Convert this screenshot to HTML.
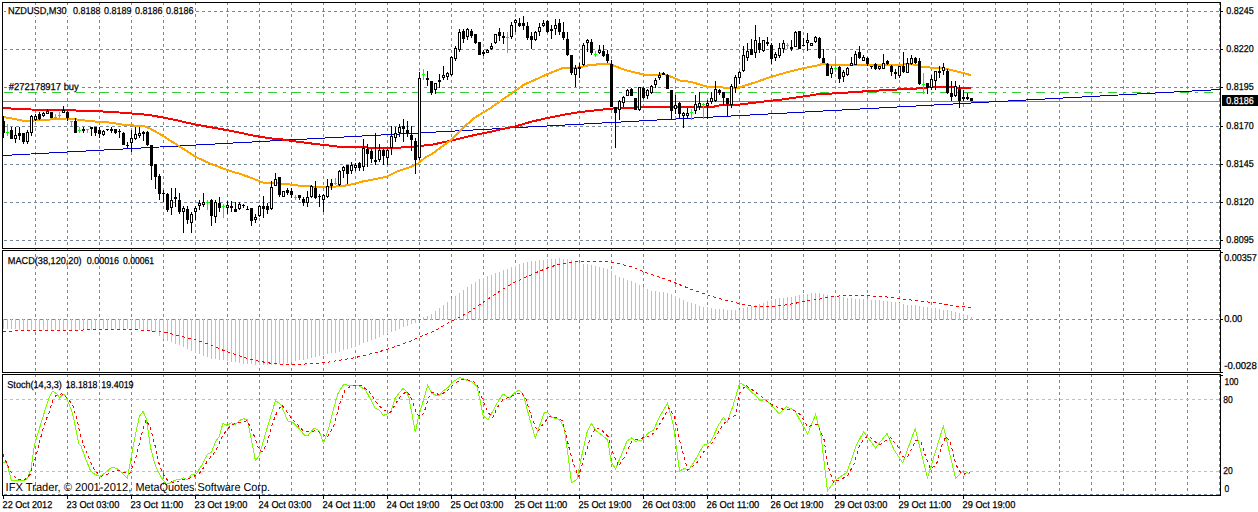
<!DOCTYPE html>
<html><head><meta charset="utf-8"><title>NZDUSD,M30</title>
<style>
html,body{margin:0;padding:0;background:#fff;width:1258px;height:512px;overflow:hidden}
svg{display:block}
text{font-family:"Liberation Sans",sans-serif}
</style></head><body>
<svg width="1258" height="512" viewBox="0 0 1258 512" shape-rendering="crispEdges"><path d="M35.5 2V496M67.5 2V496M99.5 2V496M131.5 2V496M163.5 2V496M195.5 2V496M227.5 2V496M259.5 2V496M291.5 2V496M323.5 2V496M355.5 2V496M387.5 2V496M419.5 2V496M451.5 2V496M483.5 2V496M515.5 2V496M547.5 2V496M579.5 2V496M611.5 2V496M643.5 2V496M675.5 2V496M707.5 2V496M739.5 2V496M771.5 2V496M803.5 2V496M835.5 2V496M867.5 2V496M899.5 2V496M931.5 2V496M963.5 2V496M995.5 2V496M1027.5 2V496M1059.5 2V496M1091.5 2V496M1123.5 2V496M1155.5 2V496M1187.5 2V496M1219.5 2V496" stroke="#778899" stroke-width="1" stroke-dasharray="3 3" fill="none"/><path d="M4 11.5H1220M4 49.5H1220M4 87.5H1220M4 126.5H1220M4 164.5H1220M4 202.5H1220M4 240.5H1220M4 319.5H1220M4 494.5H1220" stroke="#778899" stroke-width="1" stroke-dasharray="3 3" fill="none"/><path d="M4 399.5H1220M4 471.5H1220" stroke="#c0c0c0" stroke-width="1" stroke-dasharray="3 3" fill="none"/><rect x="6" y="5" width="189" height="11" fill="#fff"/><rect x="7" y="81" width="73" height="11" fill="#fff"/><path d="M3 101.5H1220" stroke="#778899" stroke-width="1" fill="none"/><path d="M4 92.5H1220" stroke="#32cd32" stroke-width="1" stroke-dasharray="9 6 3 6" fill="none"/><path d="M3.5 319V329M7.5 319V329M11.5 319V329M15.5 319V329M19.5 319V330M23.5 319V330M27.5 319V330M31.5 319V330M35.5 319V330M39.5 319V330M43.5 319V330M47.5 319V330M51.5 319V330M55.5 319V330M59.5 319V330M63.5 319V330M67.5 319V330M71.5 319V330M75.5 319V330M79.5 319V330M83.5 319V330M87.5 319V330M91.5 319V330M95.5 319V330M99.5 319V330M103.5 319V329M107.5 319V329M111.5 319V329M115.5 319V329M119.5 319V329M123.5 319V329M127.5 319V329M131.5 319V329M135.5 319V329M139.5 319V329M143.5 319V330M147.5 319V331M151.5 319V331M155.5 319V332M159.5 319V336M163.5 319V339M167.5 319V341M171.5 319V342M175.5 319V344M179.5 319V345M183.5 319V347M187.5 319V349M191.5 319V351M195.5 319V353M199.5 319V354M203.5 319V356M207.5 319V357M211.5 319V359M215.5 319V359M219.5 319V360M223.5 319V360M227.5 319V361M231.5 319V362M235.5 319V362M239.5 319V363M243.5 319V364M247.5 319V364M251.5 319V364M255.5 319V365M259.5 319V365M263.5 319V365M267.5 319V365M271.5 319V365M275.5 319V365M279.5 319V364M283.5 319V364M287.5 319V363M291.5 319V362M295.5 319V361M299.5 319V360M303.5 319V360M307.5 319V359M311.5 319V358M315.5 319V357M319.5 319V356M323.5 319V355M327.5 319V354M331.5 319V353M335.5 319V353M339.5 319V352M343.5 319V350M347.5 319V349M351.5 319V348M355.5 319V347M359.5 319V345M363.5 319V343M367.5 319V342M371.5 319V340M375.5 319V339M379.5 319V337M383.5 319V335M387.5 319V334M391.5 319V332M395.5 319V331M399.5 319V329M403.5 319V327M407.5 319V326M411.5 319V324M415.5 319V323M423.5 317V320M427.5 316V320M431.5 314V320M435.5 311V320M439.5 308V320M443.5 305V320M447.5 302V320M451.5 299V320M455.5 296V320M459.5 293V320M463.5 290V320M467.5 287V320M471.5 284V320M475.5 282V320M479.5 279V320M483.5 278V320M487.5 276V320M491.5 275V320M495.5 273V320M499.5 272V320M503.5 270V320M507.5 269V320M511.5 267V320M515.5 266V320M519.5 264V320M523.5 263V320M527.5 262V320M531.5 261V320M535.5 261V320M539.5 260V320M543.5 260V320M547.5 259V320M551.5 259V320M555.5 259V320M559.5 258V320M563.5 259V320M567.5 259V320M571.5 260V320M575.5 262V320M579.5 263V320M583.5 264V320M587.5 264V320M591.5 265V320M595.5 266V320M599.5 267V320M603.5 268V320M607.5 269V320M611.5 271V320M615.5 275V320M619.5 277V320M623.5 278V320M627.5 280V320M631.5 281V320M635.5 283V320M639.5 285V320M643.5 287V320M647.5 289V320M651.5 291V320M655.5 291V320M659.5 292V320M663.5 292V320M667.5 293V320M671.5 294V320M675.5 296V320M679.5 298V320M683.5 300V320M687.5 302V320M691.5 303V320M695.5 304V320M699.5 306V320M703.5 307V320M707.5 307V320M711.5 308V320M715.5 309V320M719.5 309V320M723.5 309V320M727.5 310V320M731.5 310V320M735.5 310V320M739.5 310V320M743.5 308V320M747.5 307V320M751.5 306V320M755.5 305V320M759.5 304V320M763.5 303V320M767.5 301V320M771.5 300V320M775.5 299V320M779.5 298V320M783.5 298V320M787.5 297V320M791.5 297V320M795.5 296V320M799.5 295V320M803.5 294V320M807.5 294V320M811.5 293V320M815.5 293V320M819.5 293V320M823.5 294V320M827.5 295V320M831.5 296V320M835.5 297V320M839.5 297V320M843.5 297V320M847.5 298V320M851.5 298V320M855.5 299V320M859.5 299V320M863.5 299V320M867.5 299V320M871.5 300V320M875.5 300V320M879.5 300V320M883.5 301V320M887.5 301V320M891.5 302V320M895.5 302V320M899.5 303V320M903.5 304V320M907.5 305V320M911.5 305V320M915.5 305V320M919.5 306V320M923.5 307V320M927.5 307V320M931.5 308V320M935.5 308V320M939.5 309V320M943.5 310V320M947.5 310V320M951.5 311V320M955.5 312V320M959.5 313V320M963.5 314V320M967.5 315V320M971.5 317V320" stroke="#c0c0c0" stroke-width="1" fill="none"/><polyline points="3.0,331.8 13.0,331.8 14.0,330.9 66.7,330.9 100.0,329.1 133.5,329.5 152.5,331.0 166.8,332.7 181.0,336.3 195.4,339.9 209.7,344.6 224.0,350.6 238.3,355.4 250.0,359.5 259.3,361.3 273.6,363.7 292.7,364.9 309.3,363.7 326.0,362.5 340.3,360.1 354.6,357.7 368.9,354.2 383.2,350.6 397.5,345.8 411.8,340.6 421.4,336.3 435.7,330.3 450.0,322.0 459.5,317.2 469.0,312.0 478.6,305.3 490.0,297.7 501.9,289.8 513.8,282.7 525.7,277.2 537.7,271.9 549.6,267.2 561.5,263.6 573.4,261.9 585.3,261.2 597.2,261.0 609.2,261.9 621.1,264.3 633.0,267.2 644.9,272.4 656.8,276.2 668.7,280.3 680.7,285.1 692.6,289.8 704.5,293.9 716.4,297.7 728.3,301.0 735.0,302.5 744.5,304.8 754.0,306.5 770.7,307.0 782.7,305.3 794.6,303.4 806.5,301.0 818.4,299.4 830.3,296.5 842.2,295.8 866.1,295.8 882.8,296.5 897.1,298.2 911.4,300.1 925.7,301.7 940.0,303.4 954.3,305.8 971.0,307.7" stroke="#ff0000" stroke-width="1" stroke-dasharray="3 3" fill="none"/><polyline points="3.0,462.2 6.7,462.7 11.4,480.5 14.3,481.0 19.0,480.5 23.8,481.0 27.4,478.2 31.0,469.8 34.4,444.7 46.7,404.8 49.6,396.6 52.0,391.9 53.7,391.9 56.7,393.7 59.6,397.8 63.7,394.3 66.0,396.6 69.5,405.4 71.9,411.3 74.2,420.7 78.9,444.1 81.0,446.0 85.8,459.1 90.6,471.0 95.3,474.5 100.0,476.5 106.0,472.2 112.0,467.0 116.8,468.6 121.5,472.2 127.5,478.2 131.0,457.9 134.6,438.8 139.4,416.2 143.0,411.5 146.2,418.1 150.6,448.0 154.7,463.3 157.8,471.1 161.7,478.2 166.4,484.4 170.3,482.8 175.0,480.1 179.7,479.7 183.6,477.8 187.5,479.7 191.4,474.6 196.1,474.2 197.7,471.5 201.6,465.7 206.2,456.3 208.0,454.0 211.4,452.6 215.8,441.1 219.3,436.7 222.8,423.6 227.2,425.3 231.6,422.7 235.1,424.4 240.4,420.0 243.9,418.8 247.5,420.0 255.4,460.5 259.3,455.5 265.3,434.1 270.0,418.6 275.5,400.7 280.7,404.3 287.9,421.0 292.7,422.2 298.6,428.1 304.6,435.3 308.2,435.3 314.1,428.1 318.9,430.5 323.6,443.1 328.4,429.3 333.2,410.2 338.0,393.5 343.9,384.0 349.9,385.9 358.2,385.2 365.4,390.0 370.1,398.3 374.9,407.9 379.7,410.2 383.2,415.5 390.4,412.6 395.1,398.3 402.8,388.4 406.2,391.1 409.0,398.1 415.3,432.1 418.7,416.1 427.7,385.6 431.9,393.2 436.1,395.3 439.5,395.3 443.0,391.1 448.5,387.0 452.7,382.1 459.6,377.5 463.1,378.7 472.1,382.1 477.0,386.3 480.0,400.2 483.3,416.2 488.1,419.8 497.1,403.1 503.1,394.0 509.1,398.3 515.0,392.4 519.1,390.0 523.4,394.8 529.3,417.4 535.3,438.4 540.0,424.5 544.3,412.6 548.4,413.1 552.0,417.4 559.1,419.3 563.9,426.9 567.5,450.8 571.5,482.9 577.0,479.4 581.8,455.5 587.2,431.7 591.3,423.4 596.0,430.5 600.8,434.1 607.7,440.0 611.2,462.0 615.6,469.0 621.1,455.5 627.0,441.2 631.8,437.7 635.4,441.2 642.5,440.0 648.5,432.9 653.3,430.5 659.2,417.4 667.5,403.1 673.5,425.7 679.5,471.0 684.2,468.6 689.0,469.8 695.0,460.3 703.3,445.5 710.4,442.4 718.8,424.5 723.5,417.4 727.1,422.2 733.1,405.5 739.8,382.8 745.7,386.4 751.7,392.4 755.3,394.8 760.0,400.7 764.8,399.5 770.7,404.3 779.1,413.8 786.2,406.7 794.6,410.2 801.7,423.4 807.7,434.1 815.6,414.5 820.8,434.1 827.5,490.8 835.1,480.5 847.0,472.2 856.5,444.8 863.7,431.7 869.7,440.0 875.6,447.9 887.0,433.5 894.0,449.7 902.8,462.9 915.1,428.6 927.5,477.8 943.3,426.0 955.6,478.7 963.5,470.8 970.5,474.3" stroke="#7cfc00" stroke-width="1" fill="none"/><polyline points="3.0,454.3 9.5,469.8 16.7,479.4 23.8,480.5 30.0,474.5 33.0,465.5 36.0,456.5 39.1,443.5 42.6,430.6 46.1,419.5 49.0,413.0 52.5,400.7 56.0,395.5 61.3,393.9 63.7,394.3 68.4,399.6 72.5,404.3 74.2,410.7 76.6,416.6 78.9,428.9 82.4,441.8 87.0,453.1 93.0,467.5 100.0,476.5 107.2,474.5 116.8,469.8 124.0,472.2 130.0,473.4 135.8,457.9 141.8,434.1 145.9,419.8 150.1,426.9 155.0,445.5 157.4,458.2 159.4,464.9 161.7,470.3 164.8,477.4 169.5,481.7 175.8,482.5 181.2,479.7 187.5,478.9 193.0,476.8 199.2,473.5 203.9,467.2 207.8,460.2 213.2,454.3 217.6,447.3 222.0,436.7 226.4,430.6 230.8,425.3 235.1,423.6 242.2,421.8 246.6,420.9 250.1,426.2 254.5,436.7 258.9,449.9 262.4,451.7 266.8,443.8 272.1,424.4 277.3,411.3 281.7,405.1 286.1,410.4 291.4,418.3 295.0,422.0 303.4,431.2 310.5,431.7 316.5,430.5 322.5,434.1 327.2,437.7 334.4,424.5 339.1,405.5 345.1,390.0 352.2,385.2 361.8,385.9 368.9,391.2 376.1,401.9 383.2,410.2 390.4,412.6 397.5,400.7 401.4,395.3 406.9,391.1 410.4,396.7 413.2,403.6 416.6,414.0 420.1,416.1 422.9,414.7 425.7,407.8 428.4,398.1 431.9,392.5 436.1,393.2 439.5,395.3 444.4,392.5 449.9,388.4 455.5,382.8 461.0,379.4 468.0,380.0 473.5,381.4 477.7,385.6 481.0,395.9 488.1,412.6 492.9,417.4 497.1,407.9 503.1,399.5 509.1,397.1 515.0,394.8 521.0,392.4 525.7,398.3 531.7,417.4 537.7,431.7 543.6,423.4 549.6,416.2 556.7,417.4 562.7,421.0 568.6,446.0 573.4,463.9 578.7,476.5 584.1,457.9 590.1,438.8 596.0,427.4 602.0,430.5 608.0,436.5 613.9,455.5 618.7,466.3 624.6,456.7 631.8,441.2 639.0,438.8 647.3,436.9 654.4,432.9 661.6,421.0 668.7,407.9 674.7,417.4 679.5,440.0 684.2,457.9 687.8,469.8 696.1,463.9 704.5,450.8 712.8,442.4 720.0,429.3 727.1,419.8 735.5,415.0 739.8,393.5 745.7,385.2 754.0,391.2 763.6,398.3 773.1,405.5 782.7,409.1 793.4,410.2 800.0,414.4 807.4,426.5 817.6,424.6 824.0,439.5 827.8,465.5 833.4,482.1 842.7,478.5 848.2,474.7 853.8,464.5 859.4,446.0 864.0,438.5 868.7,435.8 874.2,441.3 880.0,444.5 890.5,437.5 897.6,446.2 902.8,456.7 907.2,457.6 916.0,440.0 921.3,442.7 925.7,456.7 930.1,468.2 936.2,465.5 941.5,446.2 945.9,436.5 950.3,441.8 955.6,463.8 959.1,470.8 963.5,474.3 969.6,472.5" stroke="#ff0000" stroke-width="1" stroke-dasharray="3 3" fill="none"/><path d="M3 155.5L1220 89.5" stroke="#0000cd" stroke-width="1" fill="none"/><polyline points="3.0,108.0 9.4,108.0 11.7,108.8 31.0,109.5 47.0,109.8 68.8,109.8 76.5,110.6 100.0,111.3 119.4,112.5 135.0,113.8 147.6,114.8 161.6,117.2 177.0,120.3 180.0,121.1 196.0,124.7 220.0,128.8 241.0,132.9 245.0,133.8 249.5,135.0 255.5,135.9 261.5,137.1 267.7,137.9 275.8,139.0 283.8,139.6 291.4,140.9 299.2,141.9 307.4,143.0 315.5,144.0 323.6,145.0 333.4,146.0 340.0,147.0 366.0,147.3 369.0,148.1 399.0,148.1 402.0,147.2 410.0,147.0 432.0,144.7 454.0,140.0 474.5,135.0 490.0,131.9 500.0,129.5 515.6,126.4 531.2,121.7 546.9,118.1 562.5,115.0 578.0,112.3 595.6,110.3 611.0,108.6 628.0,107.8 656.0,106.8 680.0,106.6 700.0,106.7 714.0,106.7 717.0,105.6 738.5,104.7 754.0,102.8 769.8,100.8 776.0,100.3 802.5,96.6 818.0,94.2 838.0,93.2 867.0,91.2 898.5,89.4 915.6,88.8 918.8,87.7 936.0,87.3 971.0,87.7" stroke="#ff0000" stroke-width="2" fill="none"/><polyline points="3.0,116.9 9.4,118.1 15.6,119.2 23.4,120.8 31.0,120.8 39.0,120.0 47.0,119.7 54.7,119.2 62.5,118.8 67.2,118.4 75.0,119.2 82.8,120.3 90.6,121.2 100.0,121.9 111.6,122.7 127.0,125.3 143.0,125.8 149.0,128.0 161.6,135.0 169.4,140.0 178.8,146.0 189.8,153.0 196.0,157.0 210.0,163.5 230.0,171.0 240.0,173.8 245.4,175.8 251.6,178.0 259.4,181.2 264.0,182.8 283.0,183.6 298.5,185.6 314.0,186.7 332.0,186.9 347.6,185.3 363.0,181.4 379.0,178.3 386.7,176.7 397.6,171.2 410.0,167.3 418.0,163.4 425.8,157.2 432.0,154.0 451.0,140.0 462.0,128.8 474.5,117.8 490.0,108.4 500.0,101.4 507.8,96.0 515.6,90.5 523.4,85.0 539.0,78.0 546.9,74.4 562.5,68.1 578.0,67.5 587.5,65.5 595.0,64.7 603.4,63.6 611.0,64.4 622.0,69.0 627.0,70.5 644.0,74.6 652.7,75.2 658.6,74.6 662.0,73.5 665.6,74.6 670.3,76.4 679.7,80.5 691.6,82.0 707.0,86.7 723.0,87.5 738.5,87.5 754.0,82.8 769.8,77.3 786.9,72.3 802.5,68.4 818.0,65.3 822.8,63.8 838.0,65.5 856.3,64.7 898.5,64.7 909.4,64.2 915.6,64.7 923.4,67.3 939.0,67.8 946.9,69.0 962.5,72.8 971.0,75.2" stroke="#ffa500" stroke-width="2" fill="none"/><path d="M3 116h1v22h-1zM2 121h3v12h-3zM11 127h1v12h-1zM10 130h3v9h-3zM15 127h1v16h-1zM14 135h3v4h-3zM19 127h1v13h-1zM18 133h3v3h-3zM23 133h1v11h-1zM22 133h3v9h-3zM27 130h1v14h-1zM26 132h3v10h-3zM31 115h1v21h-1zM30 116h3v17h-3zM35 114h1v7h-1zM34 116h3v4h-3zM39 112h1v8h-1zM38 114h3v5h-3zM43 112h1v5h-1zM42 113h3v3h-3zM47 109h1v5h-1zM46 111h3v3h-3zM51 112h1v6h-1zM50 112h3v6h-3zM63 106h1v7h-1zM62 110h3v3h-3zM67 111h1v10h-1zM66 112h3v6h-3zM75 118h1v15h-1zM74 121h3v12h-3zM83 127h1v6h-1zM82 129h3v2h-3zM91 127h1v9h-1zM90 127h3v2h-3zM95 127h1v9h-1zM94 127h3v6h-3zM99 127h1v11h-1zM98 130h3v4h-3zM103 130h1v6h-1zM102 131h3v4h-3zM107 129h1v2h-1zM106 129h3v1h-3zM111 127h1v6h-1zM110 129h3v2h-3zM115 129h1v5h-1zM114 129h3v4h-3zM119 129h1v9h-1zM118 131h3v1h-3zM123 132h1v13h-1zM122 133h3v12h-3zM127 142h1v6h-1zM126 145h3v1h-3zM131 130h1v22h-1zM130 138h3v5h-3zM135 127h1v13h-1zM134 134h3v5h-3zM139 127h1v11h-1zM138 133h3v3h-3zM143 131h1v10h-1zM142 132h3v2h-3zM147 131h1v15h-1zM146 132h3v13h-3zM151 145h1v35h-1zM150 145h3v21h-3zM155 164h1v25h-1zM154 164h3v13h-3zM159 174h1v26h-1zM158 176h3v18h-3zM163 190h1v12h-1zM162 193h3v1h-3zM167 193h1v19h-1zM166 194h3v16h-3zM171 188h1v27h-1zM170 200h3v8h-3zM175 188h1v19h-1zM174 197h3v2h-3zM179 193h1v21h-1zM178 200h3v12h-3zM183 206h1v27h-1zM182 208h3v4h-3zM187 206h1v18h-1zM186 209h3v11h-3zM191 212h1v21h-1zM190 214h3v9h-3zM195 206h1v14h-1zM194 208h3v4h-3zM199 200h1v10h-1zM198 203h3v3h-3zM203 193h1v14h-1zM202 202h3v3h-3zM211 199h1v27h-1zM210 200h3v16h-3zM215 200h1v23h-1zM214 202h3v15h-3zM219 197h1v15h-1zM218 203h3v5h-3zM227 201h1v13h-1zM226 205h3v3h-3zM231 201h1v11h-1zM230 206h3v2h-3zM235 202h1v10h-1zM234 209h3v3h-3zM239 202h1v8h-1zM238 204h3v5h-3zM243 204h1v4h-1zM242 205h3v1h-3zM247 206h1v4h-1zM246 209h3v1h-3zM251 208h1v18h-1zM250 208h3v13h-3zM255 214h1v9h-1zM254 217h3v3h-3zM259 205h1v12h-1zM258 206h3v10h-3zM263 196h1v22h-1zM262 206h3v3h-3zM267 203h1v11h-1zM266 206h3v4h-3zM271 181h1v29h-1zM270 187h3v22h-3zM275 173h1v13h-1zM274 179h3v7h-3zM279 177h1v20h-1zM278 177h3v18h-3zM283 191h1v6h-1zM282 191h3v6h-3zM287 188h1v7h-1zM286 190h3v3h-3zM291 188h1v10h-1zM290 191h3v4h-3zM299 195h1v5h-1zM298 195h3v3h-3zM303 197h1v9h-1zM302 199h3v4h-3zM307 191h1v16h-1zM306 197h3v6h-3zM311 185h1v13h-1zM310 186h3v11h-3zM315 181h1v18h-1zM314 188h3v10h-3zM319 194h1v13h-1zM318 196h3v1h-3zM323 194h1v18h-1zM322 195h3v5h-3zM327 179h1v19h-1zM326 186h3v11h-3zM331 179h1v11h-1zM330 183h3v3h-3zM339 170h1v16h-1zM338 171h3v14h-3zM343 166h1v12h-1zM342 167h3v4h-3zM347 165h1v19h-1zM346 165h3v9h-3zM351 162h1v12h-1zM350 165h3v6h-3zM355 163h1v8h-1zM354 165h3v3h-3zM359 162h1v9h-1zM358 163h3v5h-3zM363 139h1v32h-1zM362 148h3v19h-3zM367 144h1v23h-1zM366 149h3v5h-3zM371 149h1v14h-1zM370 151h3v8h-3zM375 133h1v32h-1zM374 160h3v2h-3zM379 144h1v18h-1zM378 150h3v10h-3zM383 149h1v16h-1zM382 150h3v6h-3zM387 149h1v16h-1zM386 150h3v8h-3zM391 126h1v29h-1zM390 136h3v12h-3zM395 127h1v15h-1zM394 133h3v5h-3zM399 124h1v13h-1zM398 127h3v6h-3zM403 119h1v23h-1zM402 126h3v3h-3zM407 121h1v16h-1zM406 130h3v3h-3zM411 126h1v25h-1zM410 135h3v5h-3zM415 138h1v36h-1zM414 141h3v19h-3zM419 72h1v88h-1zM418 78h3v80h-3zM427 71h1v15h-1zM426 78h3v2h-3zM431 81h1v14h-1zM430 81h3v12h-3zM435 83h1v11h-1zM434 83h3v7h-3zM439 74h1v14h-1zM438 80h3v2h-3zM443 66h1v14h-1zM442 75h3v3h-3zM447 72h1v8h-1zM446 73h3v4h-3zM451 56h1v20h-1zM450 57h3v18h-3zM455 46h1v15h-1zM454 48h3v11h-3zM459 29h1v23h-1zM458 32h3v18h-3zM463 29h1v14h-1zM462 31h3v8h-3zM467 28h1v12h-1zM466 29h3v8h-3zM471 29h1v9h-1zM470 31h3v5h-3zM475 34h1v10h-1zM474 34h3v9h-3zM479 42h1v13h-1zM478 42h3v13h-3zM483 50h1v6h-1zM482 52h3v2h-3zM487 49h1v4h-1zM486 50h3v3h-3zM491 43h1v7h-1zM490 46h3v3h-3zM495 34h1v10h-1zM494 34h3v9h-3zM499 28h1v13h-1zM498 32h3v4h-3zM503 32h1v12h-1zM502 36h3v2h-3zM511 22h1v17h-1zM510 25h3v12h-3zM515 19h1v13h-1zM514 20h3v3h-3zM519 18h1v9h-1zM518 23h3v3h-3zM523 16h1v14h-1zM522 23h3v3h-3zM527 22h1v18h-1zM526 26h3v12h-3zM531 32h1v17h-1zM530 36h3v4h-3zM535 31h1v10h-1zM534 32h3v8h-3zM539 23h1v13h-1zM538 27h3v5h-3zM543 20h1v7h-1zM542 23h3v3h-3zM547 20h1v13h-1zM546 21h3v11h-3zM551 25h1v14h-1zM550 29h3v2h-3zM555 19h1v16h-1zM554 25h3v4h-3zM559 19h1v16h-1zM558 23h3v9h-3zM563 22h1v18h-1zM562 32h3v6h-3zM567 32h1v24h-1zM566 39h3v16h-3zM571 55h1v20h-1zM570 55h3v18h-3zM575 65h1v22h-1zM574 68h3v7h-3zM579 63h1v15h-1zM578 67h3v2h-3zM583 43h1v23h-1zM582 45h3v20h-3zM587 39h1v13h-1zM586 40h3v3h-3zM591 39h1v16h-1zM590 42h3v11h-3zM599 45h1v9h-1zM598 50h3v3h-3zM603 45h1v12h-1zM602 51h3v5h-3zM607 50h1v13h-1zM606 54h3v7h-3zM611 60h1v47h-1zM610 64h3v43h-3zM615 107h1v41h-1zM614 107h3v6h-3zM619 100h1v20h-1zM618 101h3v9h-3zM623 96h1v11h-1zM622 97h3v6h-3zM627 89h1v7h-1zM626 90h3v6h-3zM631 88h1v8h-1zM630 89h3v7h-3zM635 98h1v12h-1zM634 98h3v12h-3zM639 87h1v24h-1zM638 87h3v23h-3zM643 87h1v12h-1zM642 88h3v10h-3zM647 89h1v10h-1zM646 90h3v6h-3zM651 85h1v9h-1zM650 86h3v7h-3zM655 78h1v10h-1zM654 80h3v5h-3zM659 72h1v8h-1zM658 75h3v3h-3zM663 72h1v3h-1zM662 73h3v2h-3zM667 74h1v15h-1zM666 75h3v14h-3zM671 90h1v29h-1zM670 90h3v21h-3zM675 95h1v19h-1zM674 105h3v4h-3zM679 102h1v16h-1zM678 103h3v11h-3zM683 112h1v16h-1zM682 113h3v3h-3zM687 108h1v11h-1zM686 113h3v3h-3zM695 95h1v19h-1zM694 104h3v7h-3zM699 92h1v18h-1zM698 103h3v4h-3zM707 100h1v19h-1zM706 103h3v3h-3zM711 92h1v12h-1zM710 98h3v4h-3zM715 81h1v21h-1zM714 89h3v12h-3zM719 89h1v6h-1zM718 90h3v3h-3zM723 92h1v13h-1zM722 92h3v6h-3zM727 98h1v18h-1zM726 98h3v6h-3zM731 84h1v24h-1zM730 86h3v19h-3zM735 75h1v18h-1zM734 77h3v11h-3zM739 71h1v13h-1zM738 72h3v6h-3zM743 46h1v26h-1zM742 55h3v16h-3zM747 43h1v18h-1zM746 51h3v7h-3zM751 39h1v16h-1zM750 49h3v6h-3zM755 25h1v33h-1zM754 40h3v13h-3zM759 37h1v16h-1zM758 43h3v7h-3zM763 40h1v12h-1zM762 40h3v11h-3zM767 37h1v9h-1zM766 42h3v2h-3zM771 43h1v21h-1zM770 45h3v14h-3zM775 52h1v9h-1zM774 54h3v4h-3zM779 43h1v15h-1zM778 48h3v8h-3zM783 40h1v13h-1zM782 43h3v6h-3zM791 40h1v11h-1zM790 47h3v2h-3zM795 31h1v16h-1zM794 32h3v15h-3zM799 31h1v18h-1zM798 31h3v18h-3zM803 38h1v8h-1zM802 45h3v1h-3zM807 33h1v18h-1zM806 40h3v3h-3zM811 43h1v3h-1zM810 43h3v3h-3zM815 36h1v7h-1zM814 37h3v5h-3zM819 37h1v22h-1zM818 38h3v20h-3zM823 49h1v14h-1zM822 58h3v5h-3zM827 63h1v13h-1zM826 64h3v12h-3zM831 66h1v12h-1zM830 68h3v6h-3zM839 66h1v17h-1zM838 67h3v12h-3zM843 70h1v12h-1zM842 72h3v5h-3zM847 67h1v9h-1zM846 68h3v7h-3zM851 57h1v9h-1zM850 63h3v3h-3zM855 51h1v14h-1zM854 54h3v11h-3zM859 46h1v13h-1zM858 52h3v6h-3zM863 55h1v6h-1zM862 57h3v4h-3zM867 57h1v9h-1zM866 58h3v6h-3zM871 66h1v3h-1zM870 66h3v1h-3zM875 63h1v7h-1zM874 64h3v5h-3zM879 66h1v4h-1zM878 66h3v3h-3zM883 54h1v15h-1zM882 63h3v6h-3zM887 60h1v5h-1zM886 61h3v3h-3zM891 65h1v11h-1zM890 66h3v6h-3zM895 69h1v10h-1zM894 72h3v2h-3zM899 66h1v12h-1zM898 66h3v10h-3zM903 52h1v21h-1zM902 66h3v6h-3zM907 58h1v15h-1zM906 63h3v10h-3zM911 55h1v10h-1zM910 58h3v6h-3zM915 57h1v7h-1zM914 58h3v5h-3zM919 58h1v27h-1zM918 61h3v23h-3zM927 83h1v11h-1zM926 83h3v5h-3zM931 75h1v15h-1zM930 79h3v9h-3zM935 71h1v19h-1zM934 71h3v10h-3zM939 66h1v12h-1zM938 71h3v2h-3zM943 63h1v12h-1zM942 67h3v4h-3zM947 69h1v25h-1zM946 71h3v22h-3zM951 81h1v20h-1zM950 93h3v4h-3zM955 81h1v16h-1zM954 86h3v10h-3zM959 85h1v23h-1zM958 89h3v12h-3zM963 90h1v11h-1zM962 97h3v2h-3zM967 93h1v7h-1zM966 97h3v2h-3zM971 98h1v3h-1zM970 98h3v3h-3z" fill="#000"/><path d="M15 136h1v2h-1zM27 133h1v8h-1zM31 117h1v15h-1zM35 117h1v2h-1zM43 114h1v1h-1zM47 112h1v1h-1zM63 111h1v1h-1zM103 132h1v2h-1zM131 139h1v3h-1zM135 135h1v3h-1zM139 134h1v1h-1zM171 201h1v6h-1zM183 209h1v2h-1zM191 215h1v7h-1zM195 209h1v2h-1zM199 204h1v1h-1zM203 203h1v1h-1zM215 203h1v13h-1zM227 206h1v1h-1zM239 205h1v3h-1zM255 218h1v1h-1zM259 207h1v8h-1zM271 188h1v20h-1zM275 180h1v5h-1zM283 192h1v4h-1zM307 198h1v4h-1zM311 187h1v9h-1zM323 196h1v3h-1zM327 187h1v9h-1zM339 172h1v12h-1zM343 168h1v2h-1zM351 166h1v4h-1zM355 166h1v1h-1zM363 149h1v17h-1zM379 151h1v8h-1zM387 151h1v6h-1zM391 137h1v10h-1zM395 134h1v3h-1zM399 128h1v4h-1zM419 79h1v78h-1zM435 84h1v5h-1zM443 76h1v1h-1zM447 74h1v2h-1zM451 58h1v16h-1zM455 49h1v9h-1zM459 33h1v16h-1zM467 30h1v6h-1zM487 51h1v1h-1zM491 47h1v1h-1zM495 35h1v7h-1zM511 26h1v10h-1zM515 21h1v1h-1zM535 33h1v6h-1zM539 28h1v3h-1zM543 24h1v1h-1zM555 26h1v2h-1zM575 69h1v5h-1zM583 46h1v18h-1zM587 41h1v1h-1zM599 51h1v1h-1zM619 102h1v7h-1zM623 98h1v4h-1zM627 91h1v4h-1zM639 88h1v21h-1zM647 91h1v4h-1zM651 87h1v5h-1zM655 81h1v3h-1zM659 76h1v1h-1zM675 106h1v2h-1zM683 114h1v1h-1zM687 114h1v1h-1zM695 105h1v5h-1zM699 104h1v2h-1zM707 104h1v1h-1zM711 99h1v2h-1zM715 90h1v10h-1zM731 87h1v17h-1zM735 78h1v9h-1zM739 73h1v4h-1zM743 56h1v14h-1zM747 52h1v5h-1zM755 41h1v11h-1zM763 41h1v9h-1zM775 55h1v2h-1zM779 49h1v6h-1zM783 44h1v4h-1zM795 33h1v13h-1zM807 41h1v1h-1zM811 44h1v1h-1zM815 38h1v3h-1zM831 69h1v4h-1zM843 73h1v3h-1zM847 69h1v5h-1zM851 64h1v1h-1zM855 55h1v9h-1zM863 58h1v2h-1zM879 67h1v1h-1zM883 64h1v4h-1zM899 67h1v8h-1zM907 64h1v8h-1zM911 59h1v4h-1zM931 80h1v7h-1zM935 72h1v8h-1zM943 68h1v2h-1zM955 87h1v8h-1z" fill="#fff"/><path d="M7 124h1v12h-1zM6 132h3v1h-3zM55 114h1v5h-1zM54 117h3v1h-3zM59 112h1v6h-1zM58 115h3v1h-3zM71 121h1v5h-1zM70 121h3v1h-3zM79 127h1v6h-1zM78 130h3v1h-3zM87 129h1v4h-1zM86 129h3v1h-3zM207 200h1v10h-1zM206 202h3v1h-3zM223 204h1v14h-1zM222 206h3v1h-3zM295 195h1v5h-1zM294 197h3v1h-3zM335 178h1v7h-1zM334 183h3v1h-3zM423 69h1v11h-1zM422 74h3v1h-3zM507 32h1v21h-1zM506 37h3v1h-3zM595 51h1v6h-1zM594 54h3v1h-3zM691 109h1v11h-1zM690 112h3v1h-3zM703 103h1v16h-1zM702 104h3v1h-3zM787 43h1v6h-1zM786 45h3v1h-3zM835 56h1v16h-1zM834 68h3v1h-3zM923 73h1v21h-1zM922 84h3v1h-3z" fill="#00ff00"/><rect x="2.5" y="2.5" width="1218" height="246" fill="none" stroke="#000" stroke-width="1"/><rect x="2.5" y="250.5" width="1218" height="122" fill="none" stroke="#000" stroke-width="1"/><rect x="2.5" y="374.5" width="1218" height="121" fill="none" stroke="#000" stroke-width="1"/><path d="M1221 11.5h2M1221 49.5h2M1221 87.5h2M1221 126.5h2M1221 164.5h2M1221 202.5h2M1221 240.5h2M1221 252.5h2M1221 319.5h2M1221 372.5h2M1221 375.5h2M3.5 496V499M67.5 496V499M131.5 496V499M195.5 496V499M259.5 496V499M323.5 496V499M387.5 496V499M451.5 496V499M515.5 496V499M579.5 496V499M643.5 496V499M707.5 496V499M771.5 496V499M835.5 496V499M899.5 496V499M963.5 496V499" stroke="#000" stroke-width="1" fill="none"/><rect x="1222" y="95" width="36" height="11" fill="#000"/><g text-rendering="optimizeLegibility"><text transform="translate(8 14) rotate(0.05)" font-size="10" fill="#000" stroke="#000" stroke-width="0.25" textLength="58.7" lengthAdjust="spacingAndGlyphs">NZDUSD,M30</text><text transform="translate(73 14) rotate(0.05)" font-size="10" fill="#000" stroke="#000" stroke-width="0.25" textLength="27.5" lengthAdjust="spacingAndGlyphs">0.8188</text><text transform="translate(104 14) rotate(0.05)" font-size="10" fill="#000" stroke="#000" stroke-width="0.25" textLength="27.5" lengthAdjust="spacingAndGlyphs">0.8189</text><text transform="translate(135 14) rotate(0.05)" font-size="10" fill="#000" stroke="#000" stroke-width="0.25" textLength="27.5" lengthAdjust="spacingAndGlyphs">0.8186</text><text transform="translate(166 14) rotate(0.05)" font-size="10" fill="#000" stroke="#000" stroke-width="0.25" textLength="27.5" lengthAdjust="spacingAndGlyphs">0.8186</text><text transform="translate(8.8 90) rotate(0.05)" font-size="10" fill="#000" stroke="#000" stroke-width="0.25" textLength="70" lengthAdjust="spacingAndGlyphs">#272178917 buy</text><text transform="translate(7.8 264) rotate(0.05)" font-size="10" fill="#000" stroke="#000" stroke-width="0.25" textLength="73.8" lengthAdjust="spacingAndGlyphs">MACD(38,120,20)</text><text transform="translate(86.7 264) rotate(0.05)" font-size="10" fill="#000" stroke="#000" stroke-width="0.25" textLength="32.4" lengthAdjust="spacingAndGlyphs">0.00016</text><text transform="translate(123 264) rotate(0.05)" font-size="10" fill="#000" stroke="#000" stroke-width="0.25" textLength="31" lengthAdjust="spacingAndGlyphs">0.00061</text><text transform="translate(7.3 388) rotate(0.05)" font-size="10" fill="#000" stroke="#000" stroke-width="0.25" textLength="54.5" lengthAdjust="spacingAndGlyphs">Stoch(14,3,3)</text><text transform="translate(65.7 388) rotate(0.05)" font-size="10" fill="#000" stroke="#000" stroke-width="0.25" textLength="31.7" lengthAdjust="spacingAndGlyphs">18.1818</text><text transform="translate(101.3 388) rotate(0.05)" font-size="10" fill="#000" stroke="#000" stroke-width="0.25" textLength="32.3" lengthAdjust="spacingAndGlyphs">19.4019</text><text transform="translate(5.6 491) rotate(0.05)" font-size="11.5" fill="#000" textLength="125.7" lengthAdjust="spacingAndGlyphs">IFX Trader, © 2001-2012,</text><text transform="translate(135.4 491) rotate(0.05)" font-size="11.5" fill="#000" textLength="134.6" lengthAdjust="spacingAndGlyphs">MetaQuotes Software Corp.</text><text transform="translate(2.6 508) rotate(0.05)" font-size="10" fill="#000" stroke="#000" stroke-width="0.25" textLength="49.6" lengthAdjust="spacingAndGlyphs">22 Oct 2012</text><text transform="translate(66.6 508) rotate(0.05)" font-size="10" fill="#000" stroke="#000" stroke-width="0.25" textLength="52.7" lengthAdjust="spacingAndGlyphs">23 Oct 03:00</text><text transform="translate(130.6 508) rotate(0.05)" font-size="10" fill="#000" stroke="#000" stroke-width="0.25" textLength="52.7" lengthAdjust="spacingAndGlyphs">23 Oct 11:00</text><text transform="translate(194.6 508) rotate(0.05)" font-size="10" fill="#000" stroke="#000" stroke-width="0.25" textLength="52.7" lengthAdjust="spacingAndGlyphs">23 Oct 19:00</text><text transform="translate(258.6 508) rotate(0.05)" font-size="10" fill="#000" stroke="#000" stroke-width="0.25" textLength="52.7" lengthAdjust="spacingAndGlyphs">24 Oct 03:00</text><text transform="translate(322.6 508) rotate(0.05)" font-size="10" fill="#000" stroke="#000" stroke-width="0.25" textLength="52.7" lengthAdjust="spacingAndGlyphs">24 Oct 11:00</text><text transform="translate(386.6 508) rotate(0.05)" font-size="10" fill="#000" stroke="#000" stroke-width="0.25" textLength="52.7" lengthAdjust="spacingAndGlyphs">24 Oct 19:00</text><text transform="translate(450.6 508) rotate(0.05)" font-size="10" fill="#000" stroke="#000" stroke-width="0.25" textLength="52.7" lengthAdjust="spacingAndGlyphs">25 Oct 03:00</text><text transform="translate(514.6 508) rotate(0.05)" font-size="10" fill="#000" stroke="#000" stroke-width="0.25" textLength="52.7" lengthAdjust="spacingAndGlyphs">25 Oct 11:00</text><text transform="translate(578.6 508) rotate(0.05)" font-size="10" fill="#000" stroke="#000" stroke-width="0.25" textLength="52.7" lengthAdjust="spacingAndGlyphs">25 Oct 19:00</text><text transform="translate(642.6 508) rotate(0.05)" font-size="10" fill="#000" stroke="#000" stroke-width="0.25" textLength="52.7" lengthAdjust="spacingAndGlyphs">26 Oct 03:00</text><text transform="translate(706.6 508) rotate(0.05)" font-size="10" fill="#000" stroke="#000" stroke-width="0.25" textLength="52.7" lengthAdjust="spacingAndGlyphs">26 Oct 11:00</text><text transform="translate(770.6 508) rotate(0.05)" font-size="10" fill="#000" stroke="#000" stroke-width="0.25" textLength="52.7" lengthAdjust="spacingAndGlyphs">26 Oct 19:00</text><text transform="translate(834.6 508) rotate(0.05)" font-size="10" fill="#000" stroke="#000" stroke-width="0.25" textLength="52.7" lengthAdjust="spacingAndGlyphs">29 Oct 03:00</text><text transform="translate(898.6 508) rotate(0.05)" font-size="10" fill="#000" stroke="#000" stroke-width="0.25" textLength="52.7" lengthAdjust="spacingAndGlyphs">29 Oct 11:00</text><text transform="translate(962.6 508) rotate(0.05)" font-size="10" fill="#000" stroke="#000" stroke-width="0.25" textLength="52.7" lengthAdjust="spacingAndGlyphs">29 Oct 19:00</text><text transform="translate(1226.3 14) rotate(0.05)" font-size="10" fill="#000" stroke="#000" stroke-width="0.25" textLength="27.3" lengthAdjust="spacingAndGlyphs">0.8245</text><text transform="translate(1226.3 52) rotate(0.05)" font-size="10" fill="#000" stroke="#000" stroke-width="0.25" textLength="27.3" lengthAdjust="spacingAndGlyphs">0.8220</text><text transform="translate(1226.3 90) rotate(0.05)" font-size="10" fill="#000" stroke="#000" stroke-width="0.25" textLength="27.3" lengthAdjust="spacingAndGlyphs">0.8195</text><text transform="translate(1226.3 129) rotate(0.05)" font-size="10" fill="#000" stroke="#000" stroke-width="0.25" textLength="27.3" lengthAdjust="spacingAndGlyphs">0.8170</text><text transform="translate(1226.3 167) rotate(0.05)" font-size="10" fill="#000" stroke="#000" stroke-width="0.25" textLength="27.3" lengthAdjust="spacingAndGlyphs">0.8145</text><text transform="translate(1226.3 205) rotate(0.05)" font-size="10" fill="#000" stroke="#000" stroke-width="0.25" textLength="27.3" lengthAdjust="spacingAndGlyphs">0.8120</text><text transform="translate(1226.3 243) rotate(0.05)" font-size="10" fill="#000" stroke="#000" stroke-width="0.25" textLength="27.3" lengthAdjust="spacingAndGlyphs">0.8095</text><text transform="translate(1226.3 104) rotate(0.05)" font-size="10" fill="#fff" stroke="#fff" stroke-width="0.25" textLength="27.3" lengthAdjust="spacingAndGlyphs">0.8186</text><text transform="translate(1224.2 261) rotate(0.05)" font-size="10" fill="#000" stroke="#000" stroke-width="0.25" textLength="32.6" lengthAdjust="spacingAndGlyphs">0.00357</text><text transform="translate(1224.2 322) rotate(0.05)" font-size="10" fill="#000" stroke="#000" stroke-width="0.25" textLength="18" lengthAdjust="spacingAndGlyphs">0.00</text><text transform="translate(1224.2 369) rotate(0.05)" font-size="10" fill="#000" stroke="#000" stroke-width="0.25" textLength="32.6" lengthAdjust="spacingAndGlyphs">-0.0028</text><text transform="translate(1224.5 385) rotate(0.05)" font-size="10" fill="#000" stroke="#000" stroke-width="0.25" textLength="14" lengthAdjust="spacingAndGlyphs">100</text><text transform="translate(1223.2 403) rotate(0.05)" font-size="10" fill="#000" stroke="#000" stroke-width="0.25" textLength="9.5" lengthAdjust="spacingAndGlyphs">80</text><text transform="translate(1223.2 474) rotate(0.05)" font-size="10" fill="#000" stroke="#000" stroke-width="0.25" textLength="9.5" lengthAdjust="spacingAndGlyphs">20</text><text transform="translate(1224.5 492) rotate(0.05)" font-size="10" fill="#000" stroke="#000" stroke-width="0.25" textLength="4.7" lengthAdjust="spacingAndGlyphs">0</text></g></svg>
</body></html>
